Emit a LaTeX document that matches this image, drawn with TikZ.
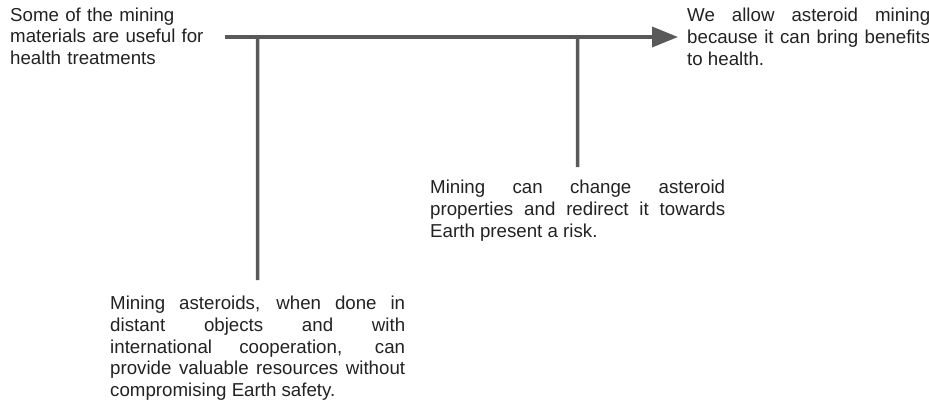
\documentclass[tikz,border=0pt]{standalone}
\usepackage{fontspec}
\setmainfont{Liberation Sans}
\usetikzlibrary{arrows.meta}
\definecolor{linegray}{HTML}{595959}
\definecolor{textgray}{HTML}{222222}
\tolerance=10000
\hbadness=10000
\hyphenpenalty=10000
\begin{document}
\begin{tikzpicture}[x=1pt,y=-1pt,
  txt/.style={inner sep=0pt, anchor=north west, text=textgray,
    font=\fontsize{18.7}{21.7}\selectfont},
  link/.style={draw=linegray, line width=3.5pt}]
\useasboundingbox (0,0) rectangle (929,405);
\node[txt, text width=205pt, align=left] (data) at (10,7.5)
  {Some of the mining\\materials are useful for\\health treatments};
\node[txt, text width=243pt, align=justify] (claim) at (687,8)
  {We allow asteroid mining\linebreak because it can bring benefits\linebreak to health.};
\node[txt, text width=295pt, align=justify] (rebut) at (430,180)
  {Mining can change asteroid\linebreak properties and redirect it towards\linebreak Earth present a risk.};
\node[txt, text width=295pt, align=justify] (backing) at (110,296)
  {Mining asteroids, when done in\linebreak distant objects and with\linebreak international cooperation, can\linebreak provide valuable resources without\linebreak compromising Earth safety.};
\coordinate (start) at (225,37);
\coordinate (tip) at (678,37);
\coordinate (j1) at (257.5,37);
\coordinate (j2) at (577.5,37);
\draw[link, -{Triangle[length=26pt,width=20pt]}] (start) -- (tip);
\draw[link, shorten >=16pt] (j1) -- (backing.north);
\draw[link, shorten >=13pt] (j2) -- (rebut.north);
\end{tikzpicture}
\end{document}
